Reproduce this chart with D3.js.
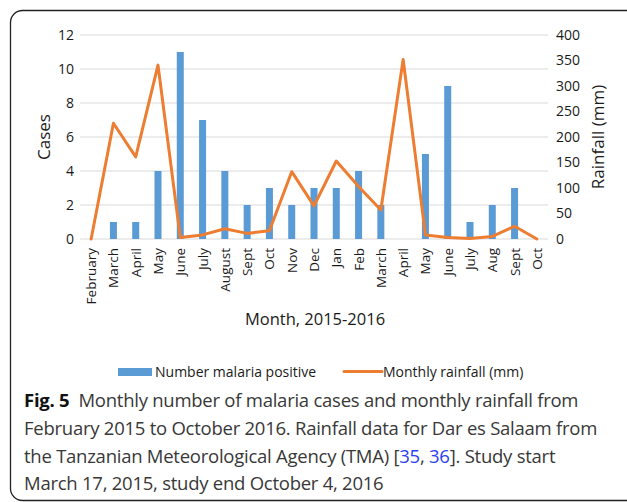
<!DOCTYPE html>
<html>
<head>
<meta charset="utf-8">
<script src="https://cdn.jsdelivr.net/npm/d3@7"></script>
<style>
  body { margin: 0; background: #fff; }
  svg { display: block; }
</style>
</head>
<body>
<svg id="chart" width="627" height="502"></svg>
<script>
var width = 627, height = 502;

var months = ["February", "March", "April", "May", "June", "July", "August", "Sept", "Oct", "Nov", "Dec",
              "Jan", "Feb", "March", "April", "May", "June", "July", "Aug", "Sept", "Oct"];
var cases = [0, 1, 1, 4, 11, 7, 4, 2, 3, 2, 3, 3, 4, 2, 0, 5, 9, 1, 2, 3, 0];
var rainfall = [0, 227, 161, 341, 3, 8, 20, 11, 16, 132, 65, 153, 103, 57, 352, 8, 3, 1, 5, 25, 0];
var casesTicks = [0, 2, 4, 6, 8, 10, 12];
var rainTicks = [0, 50, 100, 150, 200, 250, 300, 350, 400];

var font = "'Open Sans', sans-serif";
var margin = {left: 80, right: 548, top: 35, bottom: 239};
var ink = "#1a1a1a";

const svg = d3.select('#chart');

// frame
svg.append("rect")
    .attr("x", 10.5).attr("y", 10.5)
    .attr("width", 630).attr("height", 490)
    .attr("rx", 12)
    .attr("fill", "none")
    .attr("stroke", "#222")
    .attr("stroke-width", 1.3);

const x = d3.scaleBand()
    .domain(d3.range(months.length))
    .range([margin.left, margin.right]);

const yL = d3.scaleLinear().domain([0, 12]).range([margin.bottom, margin.top]);
const yR = d3.scaleLinear().domain([0, 400]).range([margin.bottom, margin.top]);

// grid
svg.append("g")
    .selectAll("line")
    .data(casesTicks)
    .join("line")
        .attr("x1", margin.left).attr("x2", margin.right)
        .attr("y1", d => yL(d)).attr("y2", d => yL(d))
        .attr("stroke", "#d9d9d9")
        .attr("stroke-width", 1);

// left axis
const left = svg.append("g")
    .attr("transform", `translate(${margin.left},0)`)
    .call(d3.axisLeft(yL).tickValues(casesTicks).tickSize(0).tickPadding(6));
left.select(".domain").remove();
left.selectAll("text").style("font-family", font).style("font-size", "14px").attr("fill", ink);

// right axis
const right = svg.append("g")
    .attr("transform", `translate(${margin.right},0)`)
    .call(d3.axisRight(yR).tickValues(rainTicks).tickSize(0).tickPadding(8));
right.select(".domain").remove();
right.selectAll("text").style("font-family", font).style("font-size", "14px").attr("fill", ink);

// bars
const barW = 7;
svg.append("g")
    .selectAll("rect")
    .data(cases)
    .join("rect")
        .attr("x", (d, i) => x(i) + x.bandwidth() / 2 - barW / 2)
        .attr("y", d => yL(d))
        .attr("width", barW)
        .attr("height", d => yL(0) - yL(d))
        .attr("fill", "#5b9bd5");

// rainfall line
const line = d3.line()
    .x((d, i) => x(i) + x.bandwidth() / 2)
    .y(d => yR(d));
svg.append("path")
    .datum(rainfall)
    .attr("d", line)
    .attr("fill", "none")
    .attr("stroke", "#ed7d31")
    .attr("stroke-width", 3)
    .attr("stroke-linejoin", "round")
    .attr("stroke-linecap", "round");

// x labels
svg.append("g")
    .selectAll("text")
    .data(months)
    .join("text")
        .attr("transform", (d, i) => `translate(${x(i) + x.bandwidth() / 2 + 5},${margin.bottom + 9}) rotate(-90)`)
        .attr("text-anchor", "end")
        .style("font-family", font)
        .style("font-size", "13.5px")
        .attr("fill", ink)
        .text(d => d);

// axis titles
svg.append("text")
    .attr("transform", `translate(50,${(margin.top + margin.bottom) / 2}) rotate(-90)`)
    .attr("text-anchor", "middle")
    .style("font-family", font).style("font-size", "17px").attr("fill", ink)
    .text("Cases");
svg.append("text")
    .attr("transform", `translate(604,${(margin.top + margin.bottom) / 2}) rotate(-90)`)
    .attr("text-anchor", "middle")
    .style("font-family", font).style("font-size", "17px").attr("fill", ink)
    .text("Rainfall (mm)");
svg.append("text")
    .attr("x", 315).attr("y", 325)
    .attr("text-anchor", "middle")
    .style("font-family", font).style("font-size", "16.5px").attr("fill", ink)
    .text("Month, 2015-2016");

// legend
const legend = svg.append("g").style("font-family", font).style("font-size", "14px");
legend.append("rect").attr("x", 118).attr("y", 368).attr("width", 34).attr("height", 8).attr("fill", "#5b9bd5");
legend.append("text").attr("x", 155).attr("y", 377).attr("fill", ink).text("Number malaria positive");
legend.append("line").attr("x1", 344).attr("x2", 382).attr("y1", 371.5).attr("y2", 371.5)
    .attr("stroke", "#ed7d31").attr("stroke-width", 3).attr("stroke-linecap", "round");
legend.append("text").attr("x", 383).attr("y", 377).attr("fill", ink).text("Monthly rainfall (mm)");

// caption
const cap = svg.append("text")
    .style("font-family", font)
    .style("font-size", "18.5px")
    .style("letter-spacing", "-0.25px")
    .attr("fill", "#383838");
const l1 = cap.append("tspan").attr("x", 24).attr("y", 407);
l1.append("tspan").attr("font-weight", "bold").attr("fill", "#111").text("Fig. 5");
l1.append("tspan").text("\u2002Monthly number of malaria cases and monthly rainfall from");
cap.append("tspan").attr("x", 24).attr("y", 435).text("February 2015 to October 2016. Rainfall data for Dar es Salaam from");
const l3 = cap.append("tspan").attr("x", 24).attr("y", 463);
l3.append("tspan").text("the Tanzanian Meteorological Agency (TMA) [");
l3.append("tspan").attr("fill", "#2b3ff0").text("35");
l3.append("tspan").text(", ");
l3.append("tspan").attr("fill", "#2b3ff0").text("36");
l3.append("tspan").text("]. Study start");
cap.append("tspan").attr("x", 24).attr("y", 490).text("March 17, 2015, study end October 4, 2016");
</script>
</body>
</html>
